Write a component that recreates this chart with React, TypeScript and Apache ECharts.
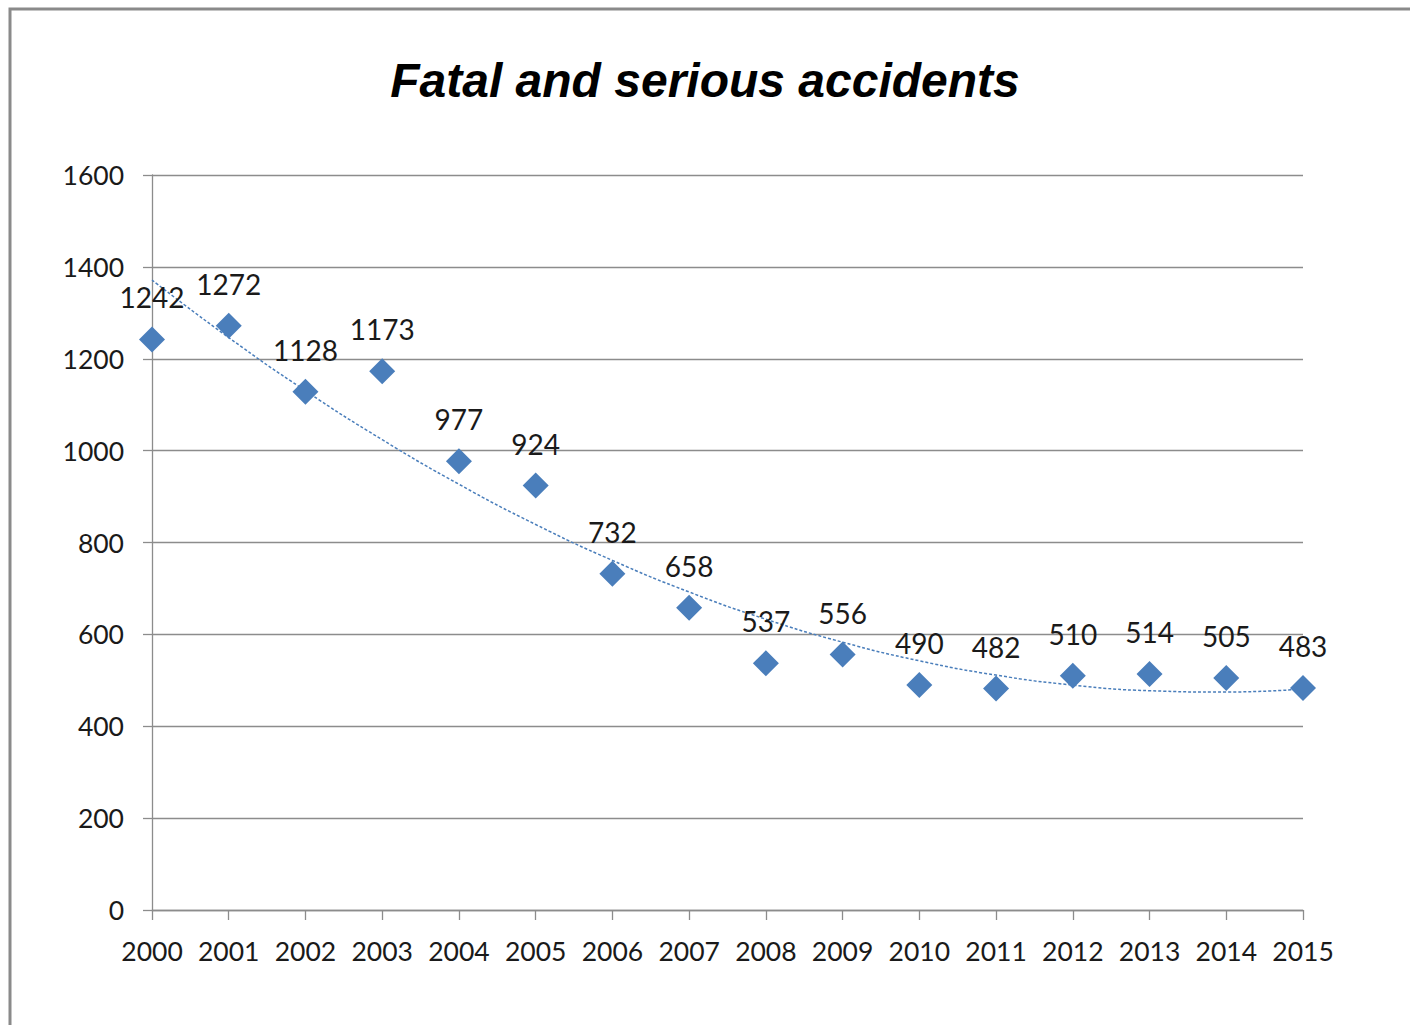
import React, { useEffect, useRef } from "react";
import * as echarts from "echarts";

const years = [2000, 2001, 2002, 2003, 2004, 2005, 2006, 2007, 2008, 2009, 2010, 2011, 2012, 2013, 2014, 2015];
const accidents = [1242, 1272, 1128, 1173, 977, 924, 732, 658, 537, 556, 490, 482, 510, 514, 505, 483];
const yTicks = [0, 200, 400, 600, 800, 1000, 1200, 1400, 1600];
const titleText = "Fatal and serious accidents";

// least-squares polynomial (order 2) trendline, as Excel computes it from the data
function polyFit2(xs: number[], ys: number[]) {
  const n = xs.length;
  const mx = xs.reduce((a, b) => a + b, 0) / n;
  let s2 = 0, s4 = 0, sy = 0, sty = 0, st2y = 0;
  for (let i = 0; i < n; i++) {
    const t = xs[i] - mx;
    s2 += t * t;
    s4 += t * t * t * t;
    sy += ys[i];
    sty += t * ys[i];
    st2y += t * t * ys[i];
  }
  const b = sty / s2;
  const c = (st2y - (s2 * sy) / n) / (s4 - (s2 * s2) / n);
  const a = (sy - c * s2) / n;
  return (x: number) => {
    const t = x - mx;
    return a + b * t + c * t * t;
  };
}

export default function App() {
  const ref = useRef<HTMLDivElement>(null);
  useEffect(() => {
    if (!ref.current) return;
    const chart = echarts.init(ref.current, undefined, { renderer: "svg" });
    const fit = polyFit2(years, accidents);
    const trend = years.map((y) => [y, fit(y)]);
    const font = "Lato";
    chart.setOption({
      animation: false,
      backgroundColor: "#ffffff",
      title: {
        text: titleText,
        left: "center",
        top: 51,
        textStyle: {
          fontFamily: "Liberation Sans",
          fontStyle: "italic",
          fontWeight: "bold",
          fontSize: 48,
          color: "#000000",
        },
      },
      graphic: [
        {
          type: "rect",
          shape: { x: 10, y: 9, width: 1500, height: 1200 },
          style: { fill: "none", stroke: "#8a8a8a", lineWidth: 3 },
          silent: true,
        },
      ],
      grid: { left: 152, right: 107, top: 175, bottom: 115 },
      xAxis: {
        type: "value",
        min: years[0],
        max: years[years.length - 1],
        interval: 1,
        splitLine: { show: false },
        axisLine: { show: true, lineStyle: { color: "#8c8c8c", width: 1.3 } },
        axisTick: { show: true, length: 10, lineStyle: { color: "#8c8c8c", width: 1.3 } },
        axisLabel: {
          margin: 27,
          fontFamily: font,
          fontSize: 26.5,
          color: "#1a1a1a",
          formatter: (v: number) => String(v),
        },
      },
      yAxis: {
        type: "value",
        min: yTicks[0],
        max: yTicks[yTicks.length - 1],
        interval: 200,
        splitLine: { show: true, lineStyle: { color: "#8c8c8c", width: 1.3 } },
        axisLine: { show: true, lineStyle: { color: "#8c8c8c", width: 1.3 } },
        axisTick: { show: true, length: 9, lineStyle: { color: "#8c8c8c", width: 1.3 } },
        axisLabel: {
          margin: 28,
          fontFamily: font,
          fontSize: 26.5,
          color: "#1a1a1a",
          formatter: (v: number) => String(v),
        },
      },
      series: [
        {
          name: "Trend",
          type: "line",
          data: trend,
          smooth: true,
          showSymbol: false,
          symbol: "none",
          lineStyle: { color: "#4a7ebb", width: 1.5, type: [3, 2] },
          z: 1,
          silent: true,
        },
        {
          name: "Fatal and serious accidents",
          type: "scatter",
          data: years.map((y, i) => [y, accidents[i]]),
          symbol: "diamond",
          symbolSize: 26,
          itemStyle: { color: "#4a7ebb", opacity: 1 },
          label: {
            show: true,
            position: "top",
            distance: 15,
            fontFamily: font,
            fontSize: 28,
            color: "#1a1a1a",
            formatter: (p: any) => String(p.value[1]),
          },
          z: 2,
        },
      ],
    });
    return () => chart.dispose();
  }, []);
  return (
    <div
      ref={ref}
      style={{ position: "fixed", left: 0, top: 0, width: 1410, height: 1025 }}
    />
  );
}
